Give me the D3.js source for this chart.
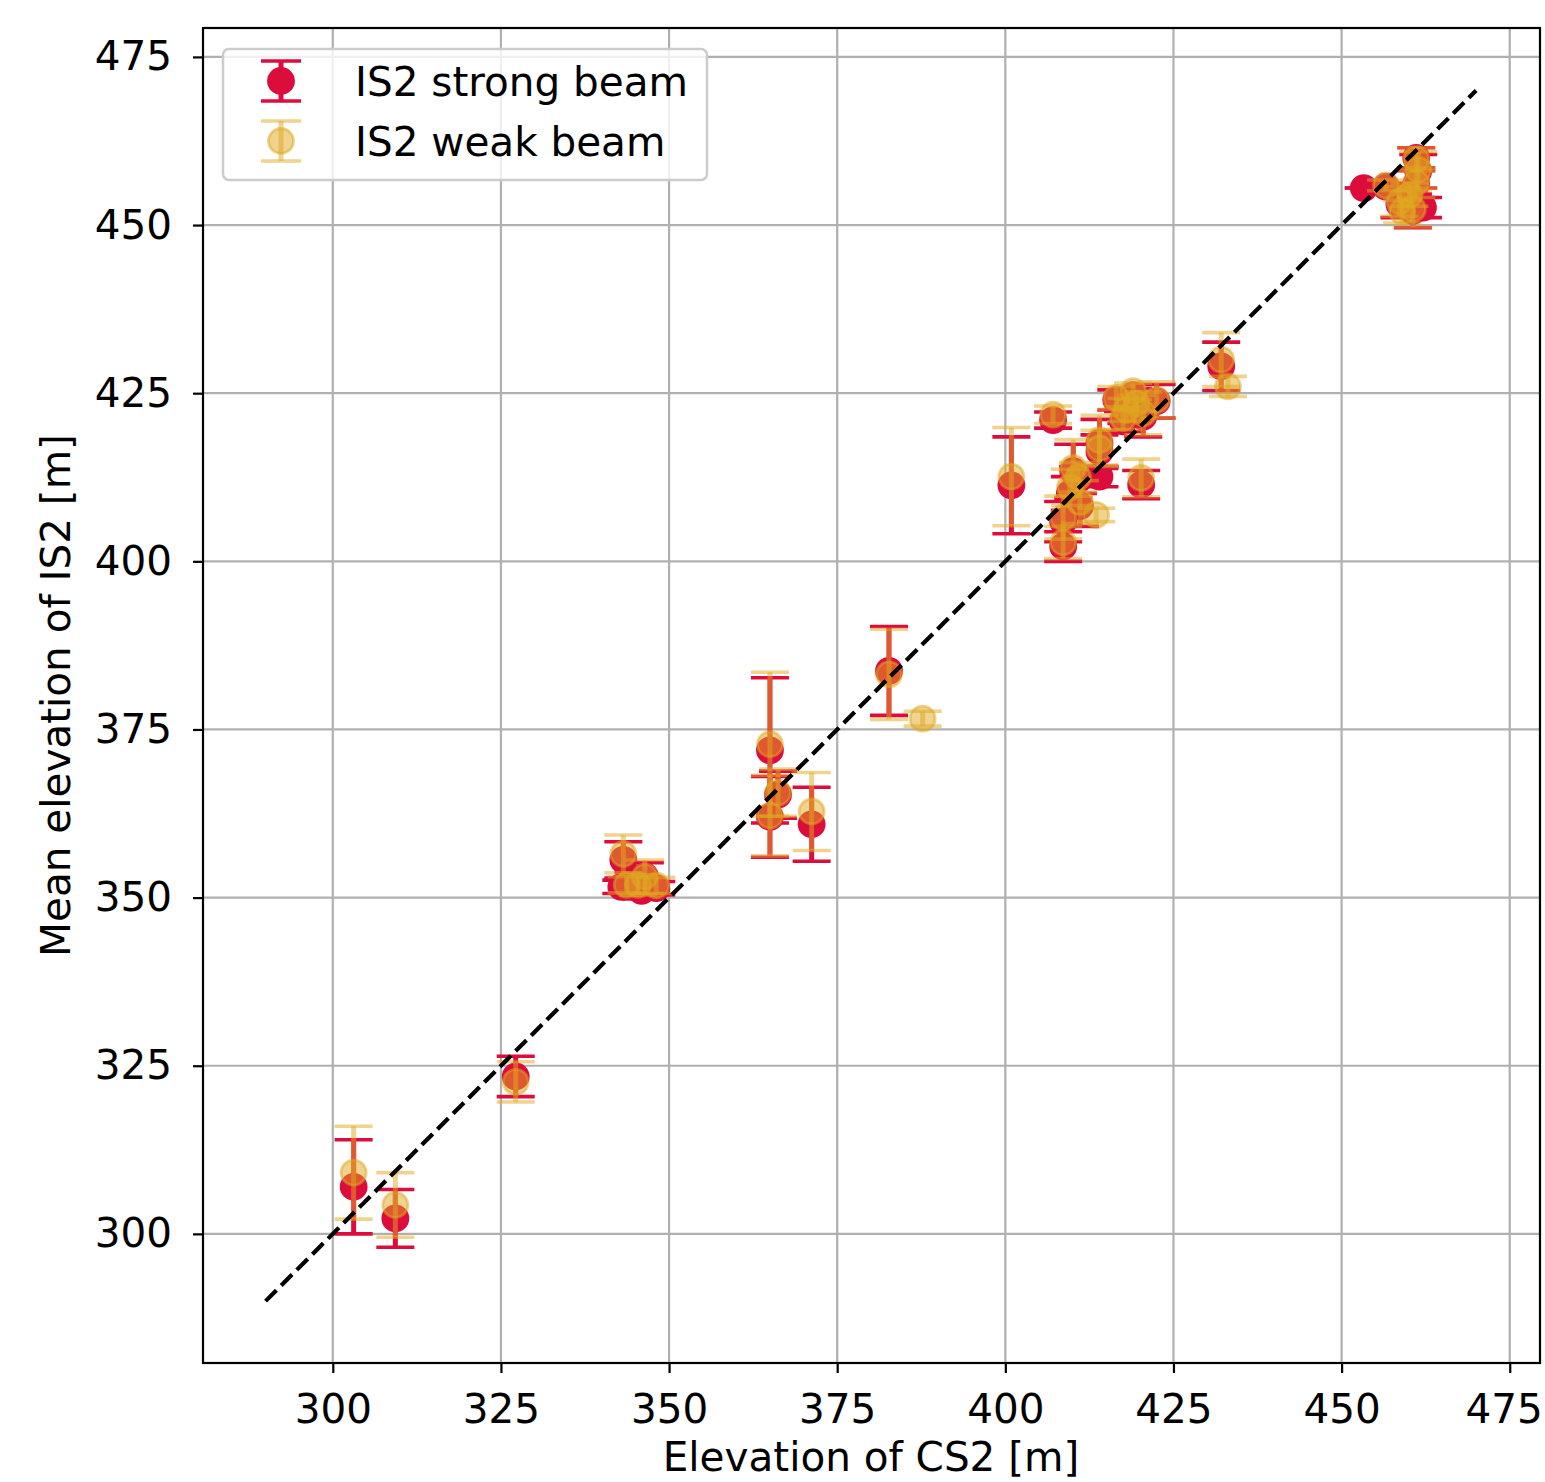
<!DOCTYPE html>
<html>
<head>
<meta charset="utf-8">
<script src="https://cdn.jsdelivr.net/npm/d3@7"></script>
<style>
  body { margin: 0; background: #fff; }
  svg { display: block; font-family: "DejaVu Sans", sans-serif; }
</style>
</head>
<body>
<svg id="chart" width="1545" height="1482"></svg>
<script>
// ---- data ----
const xTicks = [300, 325, 350, 375, 400, 425, 450, 475];
const yTicks = [300, 325, 350, 375, 400, 425, 450, 475];
const seriesNames = ["IS2 strong beam", "IS2 weak beam"];
const oneToOne = [290, 470];

const strongX = [303.1, 309.3, 327.2, 343.2, 342.9, 344.7, 346.4, 348.1, 345.9, 365.0, 366.2, 365.0, 371.2, 382.7, 400.9, 407.1, 408.6, 408.6, 409.6, 410.1, 410.8, 414.0, 414.0, 414.0, 411.1, 416.5, 419.0, 422.5, 418.0, 420.5, 417.5, 419.5, 420.2, 432.1, 453.3, 456.6, 461.1, 461.4, 461.1, 460.1, 458.6, 460.6, 462.1];
const strongY = [307.0, 302.3, 323.4, 355.6, 351.6, 352.3, 353.2, 351.4, 351.0, 371.9, 365.3, 362.0, 360.9, 383.7, 411.3, 421.0, 402.2, 405.9, 410.1, 413.4, 412.1, 412.6, 416.3, 417.6, 408.2, 424.0, 424.7, 423.8, 422.0, 421.5, 420.8, 423.0, 411.4, 429.0, 455.5, 455.7, 460.0, 458.0, 456.1, 454.1, 453.1, 452.1, 452.6];
const strongErr = [7.0, 4.3, 3.0, 2.7, 1.0, 1.5, 2.0, 1.0, 1.2, 10.8, 3.5, 6.0, 5.5, 6.6, 7.2, 1.2, 2.2, 3.0, 2.5, 4.0, 2.0, 1.5, 2.5, 3.5, 3.0, 1.5, 1.0, 2.5, 1.5, 3.0, 1.5, 1.0, 2.1, 3.6, 0.0, 0.5, 1.5, 2.5, 2.0, 1.5, 2.0, 2.5, 1.5];

const weakX = [303.1, 309.3, 327.2, 343.2, 343.7, 345.4, 346.4, 348.1, 365.0, 366.2, 365.0, 371.2, 382.7, 387.7, 400.9, 407.1, 408.6, 408.6, 409.6, 410.1, 410.8, 413.5, 414.0, 414.0, 411.1, 416.5, 419.0, 422.5, 418.0, 420.5, 417.5, 419.5, 420.2, 432.1, 433.1, 456.6, 461.1, 461.4, 461.1, 460.1, 458.6, 460.6, 459.0];
const weakY = [309.1, 304.3, 322.6, 356.5, 351.9, 351.9, 353.1, 351.8, 372.8, 365.6, 362.2, 362.8, 383.2, 376.6, 412.6, 421.8, 402.8, 406.5, 411.0, 413.9, 412.5, 406.9, 416.8, 418.0, 408.8, 424.3, 425.3, 424.0, 422.5, 422.0, 421.3, 423.5, 412.4, 430.0, 426.0, 455.9, 459.8, 458.2, 456.3, 454.5, 453.5, 452.4, 452.0];
const weakErr = [6.9, 4.8, 3.0, 2.8, 1.2, 1.5, 2.5, 1.2, 10.7, 3.5, 6.0, 5.8, 6.7, 1.1, 7.3, 1.3, 2.4, 3.2, 2.7, 4.2, 2.2, 1.0, 2.7, 3.7, 3.2, 1.7, 1.2, 2.7, 1.7, 3.2, 1.7, 1.2, 2.8, 4.0, 1.5, 0.8, 1.7, 2.7, 2.2, 1.7, 2.2, 2.7, 1.7];

// ---- layout ----
const L = 203, R = 1540, T = 28, B = 1363;
const FS = 40.5;
const svg = d3.select("#chart");
const x = d3.scaleLinear().domain([280.7, 479.5]).range([L, R]);
const y = d3.scaleLinear().domain([280.8, 479.3]).range([B, T]);

const strongColor = "#DC0C3C";
const weakColor = "#E0A820";
const weakAlpha = 0.5;
const capHalf = 19, markerR = 12.5;

// grid
const grid = svg.append("g");
grid.selectAll(".gx").data(xTicks).join("line")
  .attr("x1", d => x(d)).attr("x2", d => x(d)).attr("y1", T).attr("y2", B)
  .attr("stroke", "#b0b0b0").attr("stroke-width", 2.2);
grid.selectAll(".gy").data(yTicks).join("line")
  .attr("y1", d => y(d)).attr("y2", d => y(d)).attr("x1", L).attr("x2", R)
  .attr("stroke", "#b0b0b0").attr("stroke-width", 2.2);

const plot = svg.append("g");

function drawSeries(xs, ys, es, color, alpha) {
  const data = xs.map((v, i) => ({ x: v, y: ys[i], e: es[i] }));
  const g = plot.append("g");
  g.selectAll(".bar").data(data).join("line")
    .attr("x1", d => x(d.x)).attr("x2", d => x(d.x))
    .attr("y1", d => y(d.y - d.e)).attr("y2", d => y(d.y + d.e))
    .attr("stroke", color).attr("stroke-opacity", alpha).attr("stroke-width", 5);
  const caps = [];
  data.forEach(d => { caps.push({ x: d.x, y: d.y - d.e }); caps.push({ x: d.x, y: d.y + d.e }); });
  g.selectAll(".cap").data(caps).join("line")
    .attr("x1", d => x(d.x) - capHalf).attr("x2", d => x(d.x) + capHalf)
    .attr("y1", d => y(d.y)).attr("y2", d => y(d.y))
    .attr("stroke", color).attr("stroke-opacity", alpha).attr("stroke-width", 3.6);
  g.selectAll(".pt").data(data).join("circle")
    .attr("cx", d => x(d.x)).attr("cy", d => y(d.y)).attr("r", markerR)
    .attr("fill", color).attr("fill-opacity", alpha)
    .attr("stroke", color).attr("stroke-opacity", alpha).attr("stroke-width", 2.8);
}

drawSeries(strongX, strongY, strongErr, strongColor, 1);
drawSeries(weakX, weakY, weakErr, weakColor, weakAlpha);

// 1:1 line
plot.append("line")
  .attr("x1", x(oneToOne[0])).attr("y1", y(oneToOne[0]))
  .attr("x2", x(oneToOne[1])).attr("y2", y(oneToOne[1]))
  .attr("stroke", "#000").attr("stroke-width", 4.2)
  .attr("stroke-dasharray", "15.4,6.7");

// axes
const xAxis = d3.axisBottom(x).tickValues(xTicks).tickSize(10).tickPadding(21).tickFormat(d3.format("d"));
const yAxis = d3.axisLeft(y).tickValues(yTicks).tickSize(10).tickPadding(21).tickFormat(d3.format("d"));
const gx = svg.append("g").attr("transform", `translate(0,${B})`).call(xAxis);
const gy = svg.append("g").attr("transform", `translate(${L},0)`).call(yAxis);
[gx, gy].forEach(g => {
  g.select(".domain").remove();
  g.selectAll(".tick line").attr("stroke", "#000").attr("stroke-width", 2.2);
  g.selectAll(".tick text").attr("font-size", FS).attr("fill", "#000")
    .attr("font-family", "DejaVu Sans, sans-serif");
});
// keep the last x tick label inside the picture
gx.selectAll(".tick text").filter(d => d === xTicks[xTicks.length - 1]).attr("dx", -6);

// frame
svg.append("rect").attr("x", L).attr("y", T).attr("width", R - L).attr("height", B - T)
  .attr("fill", "none").attr("stroke", "#000").attr("stroke-width", 2.2);

// axis labels
svg.append("text").attr("x", 871).attr("y", 1471).attr("text-anchor", "middle")
  .attr("font-size", FS).text("Elevation of CS2 [m]");
svg.append("text").attr("transform", `translate(70,${(T + B) / 2}) rotate(-90)`)
  .attr("text-anchor", "middle").attr("font-size", FS).text("Mean elevation of IS2 [m]");

// legend
const lg = svg.append("g");
lg.append("rect").attr("x", 223).attr("y", 49).attr("width", 484).attr("height", 131)
  .attr("rx", 6).attr("fill", "#fff").attr("fill-opacity", 0.8)
  .attr("stroke", "#cccccc").attr("stroke-width", 2.5);
const legendItems = [
  { name: seriesNames[0], color: strongColor, alpha: 1, cy: 81 },
  { name: seriesNames[1], color: weakColor, alpha: weakAlpha, cy: 141 }
];
legendItems.forEach(it => {
  const g = lg.append("g");
  const mx = 281, h = 20;
  g.append("line").attr("x1", mx).attr("x2", mx).attr("y1", it.cy - h).attr("y2", it.cy + h)
    .attr("stroke", it.color).attr("stroke-opacity", it.alpha).attr("stroke-width", 5);
  [it.cy - h, it.cy + h].forEach(cy => g.append("line")
    .attr("x1", mx - 20).attr("x2", mx + 20).attr("y1", cy).attr("y2", cy)
    .attr("stroke", it.color).attr("stroke-opacity", it.alpha).attr("stroke-width", 3.6));
  g.append("circle").attr("cx", mx).attr("cy", it.cy).attr("r", markerR)
    .attr("fill", it.color).attr("fill-opacity", it.alpha)
    .attr("stroke", it.color).attr("stroke-opacity", it.alpha).attr("stroke-width", 2.8);
  g.append("text").attr("x", 355).attr("y", it.cy).attr("dy", "0.36em")
    .attr("font-size", FS).text(it.name);
});
</script>
</body>
</html>
